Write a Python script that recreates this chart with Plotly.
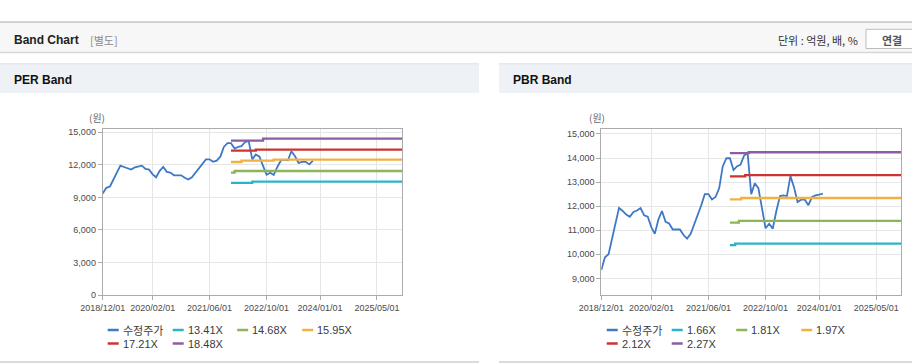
import plotly.graph_objects as go
import pandas as pd

W, H = 912, 364

# ---------------- data ----------------
price = [9350, 9880, 10000, 10600, 11300, 11930, 11800, 11650, 11560, 11760,
         11820, 11920, 11620, 11560, 11120, 10850, 11450, 11800, 11350, 11280,
         11030, 11030, 11030, 10800, 10650, 10850, 11250, 11680, 12040, 12500,
         12500, 12280, 12380, 12750, 13650, 13990, 13990, 13500, 13660, 13720,
         14100, 14200, 12500, 12950, 12750, 11900, 11080, 11270, 11060, 11800,
         12420, 12450, 12420, 13250, 12780, 12170, 12270, 12270, 12040, 12380,
         12450, 12480, 12520]
price_dates = pd.date_range("2018-12-01", periods=len(price), freq="MS")
per_price_len = 60  # PER panel line stops earlier

price_name = "수정주가"

per_names = ["13.41X", "14.68X", "15.95X", "17.21X", "18.48X"]
per_dates = [
    ["2021-12-01", "2022-06-01", "2025-12-01"],
    ["2021-12-01", "2022-01-01", "2025-12-01"],
    ["2021-12-01", "2022-03-01", "2022-12-01", "2025-12-01"],
    ["2021-12-01", "2022-07-01", "2025-12-01"],
    ["2021-12-01", "2022-09-01", "2025-12-01"],
]
per_values = [
    [10330, 10450, 10450],
    [11280, 11430, 11430],
    [12260, 12380, 12480, 12480],
    [13300, 13400, 13400],
    [14230, 14410, 14410],
]

pbr_names = ["1.66X", "1.81X", "1.97X", "2.12X", "2.27X"]
pbr_dates = [
    ["2021-12-01", "2022-01-15", "2025-12-01"],
    ["2021-12-01", "2022-02-15", "2025-12-01"],
    ["2021-12-01", "2022-03-07", "2025-12-01"],
    ["2021-12-01", "2022-04-10", "2025-12-01"],
    ["2021-12-01", "2022-05-10", "2025-12-01"],
]
pbr_values = [
    [10385, 10440, 10440],
    [11320, 11390, 11390],
    [12285, 12340, 12340],
    [13235, 13290, 13290],
    [14200, 14240, 14240],
]

x_tick_vals = ["2018-12-01", "2020-02-01", "2021-06-01", "2022-10-01", "2024-01-01", "2025-05-01"]
x_tick_text = ["2018/12/01", "2020/02/01", "2021/06/01", "2022/10/01", "2024/01/01", "2025/05/01"]
x_range = ["2018-12-01", "2025-12-01"]

per_y_ticks = [0, 3000, 6000, 9000, 12000, 15000]
pbr_y_ticks = [9000, 10000, 11000, 12000, 13000, 14000, 15000]

# ---------------- style ----------------
price_color = "#3f78c6"
band_colors = ["#2db3c7", "#8db457", "#f0b143", "#cd3430", "#8e5ca0"]
FONT = "Liberation Sans, Arial, Noto Sans CJK KR, sans-serif"
KFONT = "Noto Sans CJK KR, Liberation Sans, sans-serif"


def px(x):
    return x / W


def py(y):
    return 1 - y / H


fig = go.Figure()

# PER panel traces
fig.add_trace(go.Scatter(x=price_dates[:per_price_len], y=price[:per_price_len], mode="lines",
                         line=dict(color=price_color, width=1.8), name=price_name,
                         showlegend=False, xaxis="x", yaxis="y"))
for nm, d, v, c in zip(per_names, per_dates, per_values, band_colors):
    fig.add_trace(go.Scatter(x=d, y=v, mode="lines", line=dict(color=c, width=2.3, shape="hv"),
                             name=nm, showlegend=False, xaxis="x", yaxis="y"))

# PBR panel traces
fig.add_trace(go.Scatter(x=price_dates, y=price, mode="lines",
                         line=dict(color=price_color, width=1.8), name=price_name,
                         showlegend=False, xaxis="x2", yaxis="y2"))
for nm, d, v, c in zip(pbr_names, pbr_dates, pbr_values, band_colors):
    fig.add_trace(go.Scatter(x=d, y=v, mode="lines", line=dict(color=c, width=2.3, shape="hv"),
                             name=nm, showlegend=False, xaxis="x2", yaxis="y2"))

axis_common = dict(showline=True, linecolor="#ababab", linewidth=1, mirror=True,
                   ticks="outside", ticklen=4, tickcolor="#ababab",
                   gridcolor="#e6e6e6", gridwidth=1, zeroline=False, automargin=False,
                   tickfont=dict(family=FONT, size=9, color="#4a4a4a"))

ydom = [py(295), py(129)]
fig.update_layout(
    width=W, height=H, autosize=False,
    margin=dict(l=0, r=0, t=0, b=0, pad=0, autoexpand=False),
    paper_bgcolor="#ffffff", plot_bgcolor="rgba(0,0,0,0)",
    showlegend=False,
    xaxis=dict(domain=[px(102.7), px(402)], type="date", range=x_range,
               tickvals=x_tick_vals, ticktext=x_tick_text, anchor="y", **axis_common),
    yaxis=dict(domain=ydom, range=[0, 15300], tickvals=per_y_ticks, tickformat=",d",
               anchor="x", **axis_common),
    xaxis2=dict(domain=[px(601.3), px(901.3)], type="date", range=x_range,
                tickvals=x_tick_vals, ticktext=x_tick_text, anchor="y2", **axis_common),
    yaxis2=dict(domain=ydom, range=[8310, 15205], tickvals=pbr_y_ticks, tickformat=",d",
                anchor="x2", **axis_common),
)

shapes = []
ann = []

# top header
shapes.append(dict(type="rect", xref="paper", yref="paper", x0=0, x1=1, y0=py(52.5), y1=py(22),
                   fillcolor="#f7f7f7", line=dict(width=0), layer="below"))
shapes.append(dict(type="line", xref="paper", yref="paper", x0=0, x1=1, y0=py(22), y1=py(22),
                   line=dict(color="#a8a8a8", width=1), layer="below"))
shapes.append(dict(type="line", xref="paper", yref="paper", x0=0, x1=1, y0=py(52.5), y1=py(52.5),
                   line=dict(color="#d6d6d6", width=1.5), layer="below"))
ann.append(dict(text="<b>Band Chart</b>", x=px(11.5), y=py(40), xref="paper", yref="paper",
                xanchor="left", yanchor="middle", showarrow=False,
                font=dict(family=FONT, size=12, color="#222222")))
ann.append(dict(text="[별도]", x=px(88), y=py(40), xref="paper", yref="paper",
                xanchor="left", yanchor="middle", showarrow=False,
                font=dict(family=KFONT, size=11, color="#8a8a8a")))
ann.append(dict(text="단위 : 억원, 배, %", x=px(859.5), y=py(39.5), xref="paper", yref="paper",
                xanchor="right", yanchor="middle", showarrow=False,
                font=dict(family=KFONT, size=11, color="#333333")))
shapes.append(dict(type="rect", xref="paper", yref="paper", x0=px(866), x1=px(918),
                   y0=py(48.5), y1=py(29.3), fillcolor="#ffffff",
                   line=dict(color="#bdbdbd", width=1), layer="below"))
ann.append(dict(text="<b>연결</b>", x=px(891.5), y=py(39.5), xref="paper", yref="paper",
                xanchor="center", yanchor="middle", showarrow=False,
                font=dict(family=KFONT, size=11, color="#555555")))

# panel headers
for x0, x1, title, tx in [(0, 479, "PER Band", 11.5), (499, 912, "PBR Band", 511)]:
    shapes.append(dict(type="rect", xref="paper", yref="paper", x0=px(x0), x1=px(x1),
                       y0=py(93), y1=py(64), fillcolor="#eef1f6", line=dict(width=0), layer="below"))
    shapes.append(dict(type="line", xref="paper", yref="paper", x0=px(x0), x1=px(x1),
                       y0=py(63.8), y1=py(63.8), line=dict(color="#dcdfe4", width=1), layer="below"))
    shapes.append(dict(type="line", xref="paper", yref="paper", x0=px(x0), x1=px(x1),
                       y0=py(362), y1=py(362), line=dict(color="#cfcfcf", width=1.5), layer="below"))
    ann.append(dict(text="<b>%s</b>" % title, x=px(tx), y=py(80), xref="paper", yref="paper",
                    xanchor="left", yanchor="middle", showarrow=False,
                    font=dict(family=FONT, size=12, color="#111111")))

# unit label above y axes
for xc in [96.7, 596.7]:
    ann.append(dict(text="(원)", x=px(xc), y=py(117.5), xref="paper", yref="paper",
                    xanchor="center", yanchor="middle", showarrow=False,
                    font=dict(family=KFONT, size=10, color="#666666")))

# manual legends
def legend(x_left, names):
    cols = [0, 65, 129.5, 194.5]
    items = [price_name] + names
    colors = [price_color] + band_colors
    for i, (nm, c) in enumerate(zip(items, colors)):
        row, col = divmod(i, 4)
        yy = 330 + row * 13.5
        xx = x_left + cols[col]
        shapes.append(dict(type="line", xref="paper", yref="paper", x0=px(xx), x1=px(xx + 11),
                           y0=py(yy), y1=py(yy), line=dict(color=c, width=2.5)))
        ann.append(dict(text=nm, x=px(xx + 13), y=py(yy), xref="paper", yref="paper",
                        xanchor="left", yanchor="middle", showarrow=False,
                        font=dict(family=FONT if i else KFONT, size=11, color="#3a3a3a")))

legend(107.7, per_names)
legend(606.7, pbr_names)

fig.update_layout(shapes=shapes, annotations=ann)
fig.write_html("out.html", config={"displayModeBar": False},
               post_script="document.body.style.margin='0';")
